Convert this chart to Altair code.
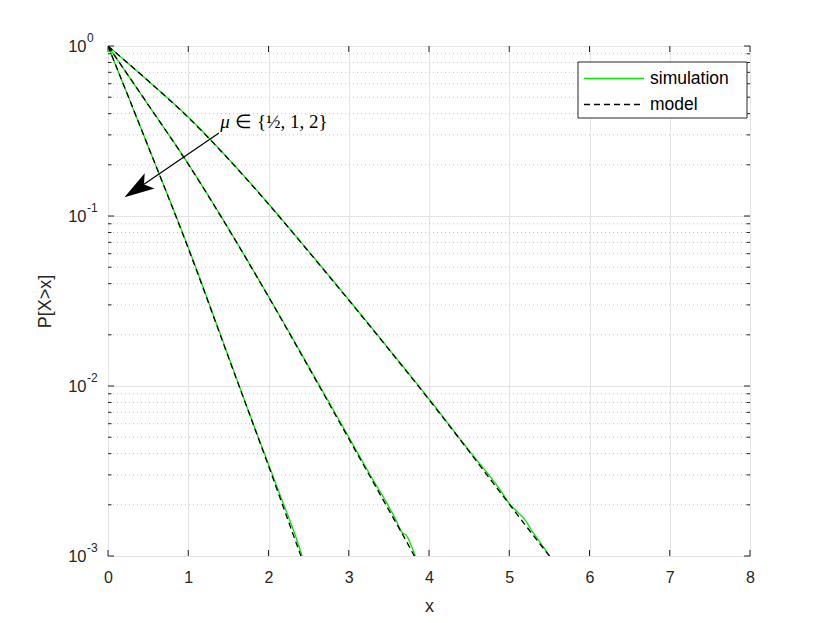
import altair as alt
import pandas as pd

# ---------------- data ----------------
x_ticks = [0, 1, 2, 3, 4, 5, 6, 7, 8]
y_decades = [0.001, 0.01, 0.1, 1.0]
y_exponents = ["-3", "-2", "-1", "0"]
y_minor = [m * 10.0 ** e for e in (-3, -2, -1) for m in range(2, 10)]

# model curves (x, log10 P[X>x]) for mu = 1/2, 1, 2 (inner to outer)
model_x_1 = [0, 0.5, 1.0, 1.5, 2.0, 2.4, 2.45]
model_l_1 = [0, -0.59, -1.19, -1.83, -2.47, -2.995, -3.06]
model_x_2 = [0, 0.5, 1.0, 1.5, 2.0, 2.5, 3.0, 3.5, 3.8, 3.85]
model_l_2 = [0, -0.345, -0.695, -1.075, -1.475, -1.89, -2.31, -2.73, -2.985, -3.03]
model_x_3 = [0, 0.5, 1.0, 1.5, 2.0, 2.5, 3.0, 3.5, 4.0, 4.5, 5.0, 5.5, 5.55]
model_l_3 = [0, -0.205, -0.42, -0.665, -0.93, -1.21, -1.495, -1.785, -2.08, -2.385, -2.695, -3.0, -3.03]

# simulation curves
sim_x_1 = [0, 0.5, 1.0, 1.5, 1.8, 2.0, 2.2, 2.32, 2.42, 2.45]
sim_l_1 = [0, -0.59, -1.185, -1.825, -2.21, -2.46, -2.71, -2.86, -3.0, -3.04]
sim_x_2 = [0, 0.5, 1.0, 1.5, 2.0, 2.5, 3.0, 3.3, 3.5, 3.6, 3.66, 3.72, 3.78, 3.83, 3.86]
sim_l_2 = [0, -0.345, -0.693, -1.073, -1.473, -1.885, -2.30, -2.55, -2.71, -2.80, -2.86, -2.88, -2.94, -3.0, -3.04]
sim_x_3 = [0, 0.5, 1.0, 1.5, 2.0, 2.5, 3.0, 3.5, 4.0, 4.5, 4.9, 5.0, 5.1, 5.2, 5.28, 5.4, 5.5, 5.55]
sim_l_3 = [0, -0.205, -0.418, -0.663, -0.928, -1.207, -1.492, -1.782, -2.076, -2.38, -2.62, -2.69, -2.74, -2.79, -2.85, -2.93, -3.0, -3.04]

annot_mu = "\u03bc"
annot_rest = "\u2208 {\u00bd, 1, 2}"
annot_pos = (1.40, 0.357)
arrow_start = (1.383, 0.308)
arrow_head = (0.362, 0.144)

# ---------------- build tables ----------------
def curves(name, pairs):
    rows = []
    for k, (xs, ls) in enumerate(pairs):
        for i, (a, b) in enumerate(zip(xs, ls)):
            rows.append({"x": a, "p": 10 ** b, "curve": k, "series": name, "o": i})
    return pd.DataFrame(rows)

sim_df = curves("simulation", [(sim_x_1, sim_l_1), (sim_x_2, sim_l_2), (sim_x_3, sim_l_3)])
mod_df = curves("model", [(model_x_1, model_l_1), (model_x_2, model_l_2), (model_x_3, model_l_3)])

W, H = 642, 510
AX = "#262626"
FONT = "Liberation Sans"

xs = alt.Scale(domain=[0, 8], nice=False)
ys = alt.Scale(type="log", domain=[0.001, 1], nice=False)
color = alt.Scale(domain=["simulation", "model"], range=["#00e600", "#000000"])
dash = alt.Scale(domain=["simulation", "model"], range=[[1, 0], [6, 4]])

xaxis = alt.Axis(values=x_ticks, format="d", labelFlush=False, grid=True, gridColor="#e3e3e3",
                 gridWidth=1, domain=False, ticks=True, tickSize=0, labelPadding=13,
                 labelFont=FONT, labelFontSize=16, labelColor=AX,
                 title="x", titleFont=FONT, titleFontSize=18, titleFontWeight="normal",
                 titleColor=AX, titleX=W / 2, titleY=50, titleBaseline="middle")
yaxis = alt.Axis(values=y_decades, labelExpr="'10'", labelFlush=False, grid=True,
                 gridColor="#e3e3e3", domain=False, ticks=True, tickSize=0, labelPadding=22,
                 labelFont=FONT, labelFontSize=16.5, labelColor=AX, labelBaseline="middle",
                 title="P[X>x]", titleFont=FONT, titleFontSize=18, titleFontWeight="normal",
                 titleColor=AX, titleX=-63, titleY=H / 2, titleBaseline="middle", titleAngle=-90)

base_axes = alt.Chart(pd.DataFrame({"x": [0], "p": [1.0]})).mark_point(opacity=0).encode(
    x=alt.X("x:Q", scale=xs, axis=xaxis),
    y=alt.Y("p:Q", scale=ys, axis=yaxis),
)

minor_df = pd.DataFrame({"p": y_minor})
minor_grid = alt.Chart(minor_df).mark_rule(color="#c4c4c4", strokeDash=[1, 3], strokeWidth=1).encode(
    y=alt.Y("p:Q", scale=ys)
)
minor_tick_l = alt.Chart(minor_df).mark_rule(color=AX).encode(
    y=alt.Y("p:Q", scale=ys), x=alt.value(0), x2=alt.value(3.5))
minor_tick_r = alt.Chart(minor_df).mark_rule(color=AX).encode(
    y=alt.Y("p:Q", scale=ys), x=alt.value(W - 3.5), x2=alt.value(W))

dec_df = pd.DataFrame({"p": y_decades, "e": y_exponents})
major_tick_l = alt.Chart(dec_df).mark_rule(color=AX).encode(
    y=alt.Y("p:Q", scale=ys), x=alt.value(0), x2=alt.value(6))
major_tick_r = alt.Chart(dec_df).mark_rule(color=AX).encode(
    y=alt.Y("p:Q", scale=ys), x=alt.value(W - 6), x2=alt.value(W))
exps = alt.Chart(dec_df).mark_text(align="left", baseline="middle", font=FONT, fontSize=12,
                                   color=AX, dy=-8).encode(
    y=alt.Y("p:Q", scale=ys), x=alt.value(-21), text="e:N")

xt_df = pd.DataFrame({"x": x_ticks})
xtick_b = alt.Chart(xt_df).mark_rule(color=AX).encode(
    x=alt.X("x:Q", scale=xs), y=alt.value(H), y2=alt.value(H - 6))
xtick_t = alt.Chart(xt_df).mark_rule(color=AX).encode(
    x=alt.X("x:Q", scale=xs), y=alt.value(0), y2=alt.value(6))

def line_layer(df):
    return alt.Chart(df).mark_line(strokeWidth=1.3, clip=True, interpolate="monotone").encode(
        x=alt.X("x:Q", scale=xs),
        y=alt.Y("p:Q", scale=ys),
        detail="curve:N",
        order="o:Q",
        color=alt.Color("series:N", scale=color,
                        legend=alt.Legend(title=None, orient="none", legendX=470, legendY=16,
                                          symbolType="stroke", symbolSize=3600, symbolStrokeWidth=1.3,
                                          labelFont=FONT, labelFontSize=17.5, labelColor="#000000",
                                          labelOffset=5, clipHeight=23, rowPadding=3, padding=5,
                                          strokeColor=None if False else "transparent",
                                          fillColor="transparent", labelLimit=0)),
        strokeDash=alt.StrokeDash("series:N", scale=dash, legend=None),
    )

sim_layer = line_layer(sim_df)
mod_layer = line_layer(mod_df)

# legend frame (drawn as a box behind the legend entries)
legend_frame = alt.Chart(pd.DataFrame({"k": [0]})).mark_rect(
    fill="white", stroke=AX, strokeWidth=1).encode(
    x=alt.value(470), x2=alt.value(639), y=alt.value(16), y2=alt.value(72))

ann_df = pd.DataFrame({"x": [annot_pos[0]], "p": [annot_pos[1]], "mu": [annot_mu], "t": [annot_rest]})
ann_mu = alt.Chart(ann_df).mark_text(align="left", baseline="middle", font="Liberation Serif",
                                     fontSize=19, fontStyle="italic", color="#000000").encode(
    x=alt.X("x:Q", scale=xs), y=alt.Y("p:Q", scale=ys), text="mu:N")
ann_text = alt.Chart(ann_df).mark_text(align="left", baseline="middle", font="Liberation Serif",
                                       fontSize=19, color="#000000", dx=15).encode(
    x=alt.X("x:Q", scale=xs), y=alt.Y("p:Q", scale=ys), text="t:N")

arr_df = pd.DataFrame({"x": [arrow_start[0]], "p": [arrow_start[1]],
                       "x2": [arrow_head[0]], "p2": [arrow_head[1]]})
arrow_line = alt.Chart(arr_df).mark_rule(color="#000000", strokeWidth=1.2).encode(
    x=alt.X("x:Q", scale=xs), y=alt.Y("p:Q", scale=ys), x2="x2:Q", y2="p2:Q")
head_df = pd.DataFrame({"x": [arrow_head[0]], "p": [arrow_head[1]]})
arrow_head_mark = alt.Chart(head_df).mark_point(
    shape="M0,-1L0.6,1L0,0.55L-0.6,1Z", size=900, angle=236.9,
    filled=True, color="#000000", opacity=1, strokeWidth=0).encode(
    x=alt.X("x:Q", scale=xs), y=alt.Y("p:Q", scale=ys))

chart = alt.layer(
    base_axes, minor_grid, sim_layer, mod_layer,
    minor_tick_l, minor_tick_r, major_tick_l, major_tick_r, xtick_b, xtick_t,
    exps, arrow_line, arrow_head_mark, ann_mu, ann_text, legend_frame,
).resolve_scale(color="shared", strokeDash="shared").properties(
    width=W, height=H, autosize="none",
    padding={"left": 100, "top": 38, "right": 72, "bottom": 70},
).configure_view(stroke=AX, strokeWidth=1).configure(background="white")

chart.save("out.html", embed_options={"renderer": "svg", "actions": False})
